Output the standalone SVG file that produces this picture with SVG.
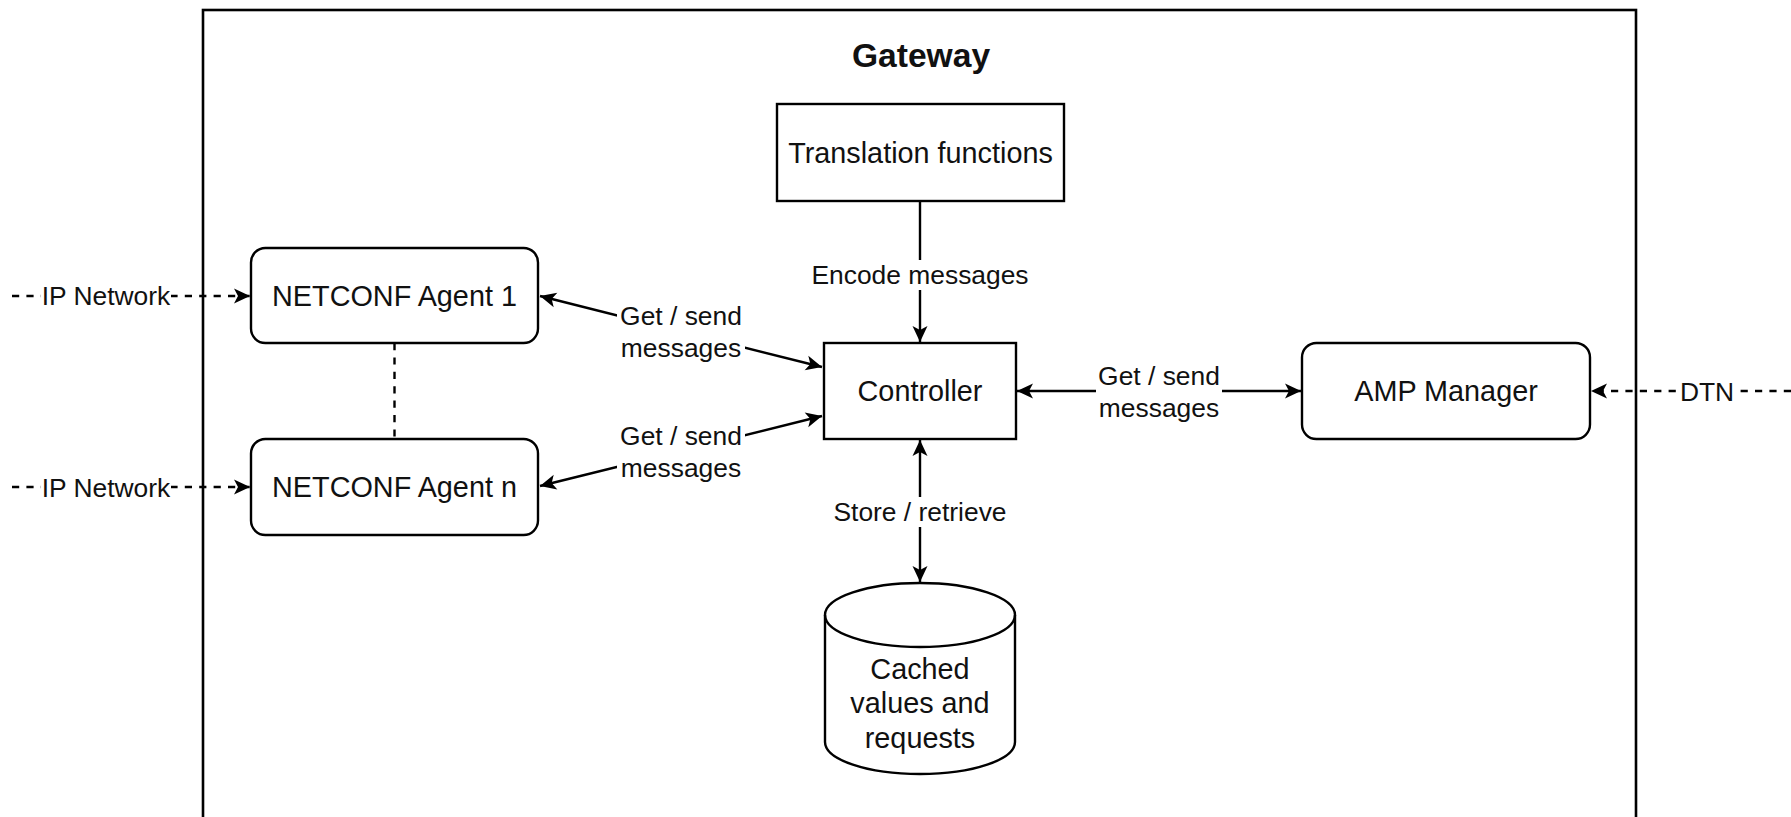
<svg xmlns="http://www.w3.org/2000/svg" width="1791" height="817" viewBox="0 0 1791 817">
  <style>
    .box { fill: #ffffff; stroke: #000000; stroke-width: 2.4; }
    .frame { fill: #ffffff; stroke: #000000; stroke-width: 2.6; }
    .edge { fill: none; stroke: #000000; stroke-width: 2.4; }
    .dash { stroke-dasharray: 7.2 7.2; }
    .node { font-family: "Liberation Sans", Arial, sans-serif; font-size: 28.8px; fill: #111111; text-anchor: middle; }
    .label { font-family: "Liberation Sans", Arial, sans-serif; font-size: 26.4px; fill: #111111; text-anchor: middle; }
    .title { font-family: "Liberation Sans", Arial, sans-serif; font-size: 33.6px; font-weight: bold; fill: #111111; text-anchor: middle; }
    .lbg { fill: #ffffff; }
  </style>
  <defs>
    <marker id="arrow" markerUnits="userSpaceOnUse" markerWidth="16" markerHeight="15" refX="16" refY="7.5" orient="auto-start-reverse" overflow="visible">
      <path d="M16,7.5 L0,0 L4,7.5 L0,15 Z" fill="#000000"/>
    </marker>
  </defs>

  <rect width="1791" height="817" fill="#ffffff"/>

  <!-- gateway container -->
  <g id="gateway">
    <rect class="frame" x="203" y="10" width="1433" height="830"/>
    <text class="title" x="921" y="67">Gateway</text>
  </g>

  <!-- connectors -->
  <g id="connectors">
    <path class="edge" d="M540,296 L822,367" marker-start="url(#arrow)" marker-end="url(#arrow)"/>
    <path class="edge" d="M540,486 L822,416" marker-start="url(#arrow)" marker-end="url(#arrow)"/>
    <path class="edge" d="M920,201 L920,342" marker-end="url(#arrow)"/>
    <path class="edge" d="M920,440 L920,582" marker-start="url(#arrow)" marker-end="url(#arrow)"/>
    <path class="edge" d="M1017,391 L1301,391" marker-start="url(#arrow)" marker-end="url(#arrow)"/>
    <path class="edge dash" d="M12,296 L250,296" marker-end="url(#arrow)"/>
    <path class="edge dash" d="M12,487 L250,487" marker-end="url(#arrow)"/>
    <path class="edge dash" d="M1791,391 L1591,391" marker-end="url(#arrow)"/>
    <path class="edge dash" d="M394.5,343 L394.5,439"/>

    <!-- edge labels -->
    <rect class="lbg" x="617" y="297" width="128" height="66"/>
    <text class="label" x="681" y="324.5">Get / send</text>
    <text class="label" x="681" y="356.5">messages</text>

    <rect class="lbg" x="617" y="418" width="128" height="66"/>
    <text class="label" x="681" y="445">Get / send</text>
    <text class="label" x="681" y="476.5">messages</text>

    <rect class="lbg" x="1096" y="358" width="126" height="66"/>
    <text class="label" x="1159" y="385">Get / send</text>
    <text class="label" x="1159" y="416.5">messages</text>

    <rect class="lbg" x="808" y="260" width="224" height="30"/>
    <text class="label" x="920" y="283.5">Encode messages</text>

    <rect class="lbg" x="832" y="497" width="176" height="30"/>
    <text class="label" x="920" y="520.5">Store / retrieve</text>

    <rect class="lbg" x="41" y="281" width="130" height="30"/>
    <text class="label" x="106" y="305">IP Network</text>
    <rect class="lbg" x="41" y="472" width="130" height="30"/>
    <text class="label" x="106" y="496.5">IP Network</text>

    <rect class="lbg" x="1678" y="376" width="58" height="30"/>
    <text class="label" x="1707" y="400.5">DTN</text>
  </g>

  <g id="translation">
    <rect class="box" x="777" y="104" width="287" height="97"/>
    <text class="node" x="920.5" y="162.5">Translation functions</text>
  </g>

  <g id="agent1">
    <rect class="box" x="251" y="248" width="287" height="95" rx="14.4" ry="14.4"/>
    <text class="node" x="394.5" y="306">NETCONF Agent 1</text>
  </g>

  <g id="agentn">
    <rect class="box" x="251" y="439" width="287" height="96" rx="14.4" ry="14.4"/>
    <text class="node" x="394.5" y="497">NETCONF Agent n</text>
  </g>

  <g id="controller">
    <rect class="box" x="824" y="343" width="192" height="96"/>
    <text class="node" x="920" y="401">Controller</text>
  </g>

  <g id="amp-manager">
    <rect class="box" x="1302" y="343" width="288" height="96" rx="14.4" ry="14.4"/>
    <text class="node" x="1446" y="401">AMP Manager</text>
  </g>

  <g id="cache">
    <path class="box" d="M825,615 A95,32 0 0 1 1015,615 L1015,742 A95,32 0 0 1 825,742 Z"/>
    <path class="edge" d="M825,615 A95,32 0 0 0 1015,615"/>
    <text class="node" x="920" y="678.5">Cached</text>
    <text class="node" x="920" y="713">values and</text>
    <text class="node" x="920" y="747.5">requests</text>
  </g>
</svg>
